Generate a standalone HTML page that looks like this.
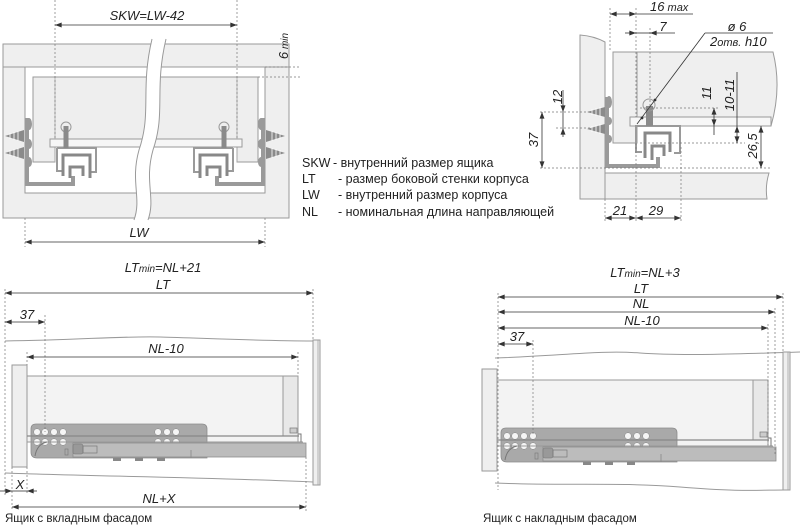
<!DOCTYPE html>
<html><head><meta charset="utf-8">
<style>
html,body{margin:0;padding:0;background:#fff;}
svg{display:block;}
text{font-family:"Liberation Sans",Arial,sans-serif;fill:#222;}
.d{font-style:italic;font-size:13px;}
.l{font-size:12.5px;}
.c{font-size:11.5px;}
.dm{stroke:#333;stroke-width:0.8;fill:none;}
.ds{stroke:#777;stroke-width:0.7;stroke-dasharray:2 2;fill:none;}
.pn{fill:#efefef;stroke:#9a9a9a;stroke-width:1;}
</style></head><body>
<svg width="800" height="528" viewBox="0 0 800 528" xmlns="http://www.w3.org/2000/svg">
<defs>
<marker id="a" viewBox="0 0 8 6" refX="8" refY="3" markerWidth="7" markerHeight="5" orient="auto-start-reverse" markerUnits="userSpaceOnUse"><path d="M0,0L8,3L0,6z" fill="#333"/></marker>
<g id="rl">
<path d="M5,136 L24,130 L24,142Z M5,153 L24,147 L24,159Z" fill="#8a8a8a"/>
<path d="M10,133v6M14,132v8M18,131v10M10,150v6M14,149v8M18,148v10" stroke="#fff" stroke-width="0.8"/>
<rect x="25" y="118" width="4" height="68" fill="#9a9a9a"/>
<ellipse cx="29" cy="124" rx="3" ry="6" fill="#9a9a9a"/>
<ellipse cx="29" cy="144" rx="3" ry="5" fill="#9a9a9a"/>
<ellipse cx="29" cy="162" rx="3" ry="5" fill="#9a9a9a"/>
<path d="M27,184 H73 V176" fill="none" stroke="#9a9a9a" stroke-width="4"/>
<path d="M57,148 V171 H62 M57,148 H96 V172 H91" fill="none" stroke="#9a9a9a" stroke-width="2"/>
<path d="M63,176 V155 H90 V178" fill="none" stroke="#888" stroke-width="3"/>
<path d="M70,178 V167 H83 V176" fill="none" stroke="#888" stroke-width="3"/>
<circle cx="66" cy="127" r="5" fill="none" stroke="#999"/>
<rect x="63.5" y="126" width="5" height="22" fill="#8a8a8a"/>
</g>
<g id="drw">
<rect x="-15" y="-11" width="15" height="102" fill="#efefef" stroke="#9a9a9a"/>
<rect x="0" y="0" width="271" height="66" fill="#f3f3f3" stroke="#999"/>
<rect x="256" y="0" width="15" height="60" fill="#e8e8e8" stroke="#999"/>
<rect x="263" y="52" width="7" height="5" fill="#ccc" stroke="#777" stroke-width="0.7"/>
<path d="M4,53 Q4,48 9,48 H175 Q180,48 180,53 V82 H10 Q4,82 4,76 Z" fill="#a9a9a9" stroke="#8c8c8c" stroke-width="0.8"/>
<g fill="#f5f5f5" stroke="#888" stroke-width="0.5">
<circle cx="10" cy="56" r="3.3"/><circle cx="18" cy="56" r="3.3"/><circle cx="27" cy="56" r="3.3"/><circle cx="36" cy="56" r="3.3"/>
<circle cx="10" cy="66" r="3.3"/><circle cx="18" cy="66" r="3.3"/><circle cx="27" cy="66" r="3.3"/><circle cx="36" cy="66" r="3.3"/>
<circle cx="131" cy="56" r="3.3"/><circle cx="140" cy="56" r="3.3"/><circle cx="149" cy="56" r="3.3"/>
<circle cx="131" cy="66" r="3.3"/><circle cx="140" cy="66" r="3.3"/><circle cx="149" cy="66" r="3.3"/>
</g>
<line x1="0" y1="60" x2="272" y2="60" stroke="#888" stroke-width="1.3"/>
<line x1="0" y1="66" x2="276" y2="66" stroke="#999" stroke-width="1"/>
<path d="M271,58 H274 V66" fill="none" stroke="#777" stroke-width="1"/>
<rect x="46" y="67" width="233" height="14" fill="#bcbcbc" stroke="#8c8c8c" stroke-width="0.8"/>
<line x1="164" y1="74" x2="164" y2="82" stroke="#888" stroke-width="0.8"/>
<rect x="46" y="68" width="10" height="10" rx="2" fill="#999" stroke="#777" stroke-width="0.6"/>
<rect x="56" y="70" width="14" height="7" fill="none" stroke="#777" stroke-width="0.7"/>
<path d="M8,80 Q10,68 20,66" fill="none" stroke="#777" stroke-width="1"/>
<rect x="38" y="73" width="3" height="6" fill="none" stroke="#777" stroke-width="0.6"/>
<g fill="#888"><rect x="86" y="82" width="8" height="3"/><rect x="108" y="82" width="8" height="3"/><rect x="130" y="82" width="8" height="3"/></g>
</g>
</defs>

<!-- ================= TOP LEFT ================= -->
<rect x="3" y="44" width="286" height="174" class="pn"/>
<rect x="25" y="67" width="240" height="126" fill="#fff" stroke="#9a9a9a"/>
<line x1="3" y1="67" x2="25" y2="67" stroke="#9a9a9a"/>
<line x1="265" y1="67" x2="289" y2="67" stroke="#9a9a9a"/>
<path d="M33,77 H258 V162 H237 V147 H55 V162 H33 Z" fill="#eeeeee" stroke="#9a9a9a"/>
<line x1="55" y1="77" x2="55" y2="162" stroke="#aaa" stroke-width="0.8"/>
<line x1="237" y1="77" x2="237" y2="162" stroke="#aaa" stroke-width="0.8"/>
<rect x="50" y="139" width="192" height="8" fill="#f6f6f6" stroke="#9a9a9a"/>
<use href="#rl"/>
<use href="#rl" transform="translate(290,0) scale(-1,1)"/>
<!-- break -->
<path d="M152,39 C140,90 152,112 139,150 C130,182 142,198 134,220 L148,220 C156,198 144,182 153,150 C166,112 154,90 166,39 Z" fill="#fff"/>
<path d="M152,39 C140,90 152,112 139,150 C130,182 142,198 134,220 M166,39 C154,90 166,112 153,150 C144,182 156,198 148,220" fill="none" stroke="#9a9a9a" stroke-width="1"/>
<!-- dims -->
<line x1="55" y1="0" x2="55" y2="140" class="ds"/>
<line x1="237" y1="0" x2="237" y2="140" class="ds"/>
<line x1="55" y1="25" x2="237" y2="25" class="dm" marker-start="url(#a)" marker-end="url(#a)"/>
<text x="147" y="20" class="d" text-anchor="middle">SKW=LW-42</text>
<line x1="25" y1="218" x2="25" y2="247" class="ds"/>
<line x1="265" y1="218" x2="265" y2="247" class="ds"/>
<line x1="25" y1="242" x2="265" y2="242" class="dm" marker-start="url(#a)" marker-end="url(#a)"/>
<text x="139" y="237" class="d" text-anchor="middle">LW</text>
<line x1="265" y1="67" x2="300" y2="67" class="ds"/>
<line x1="258" y1="77" x2="300" y2="77" class="ds"/>
<text transform="translate(288,46) rotate(-90)" class="d" text-anchor="middle" font-size="12">6<tspan font-size="10"> min</tspan></text>

<!-- legend -->
<text x="302" y="167" class="l">SKW</text><text x="333" y="167" class="l">- внутренний размер ящика</text>
<text x="302" y="183" class="l">LT</text><text x="338" y="183" class="l">- размер боковой стенки корпуса</text>
<text x="302" y="199" class="l">LW</text><text x="338" y="199" class="l">- внутренний размер корпуса</text>
<text x="302" y="216" class="l">NL</text><text x="338" y="216" class="l">- номинальная длина направляющей</text>

<!-- ================= TOP RIGHT ================= -->
<path d="M580,35 Q594,36 605,42 V199 H580 Z" class="pn"/>
<path d="M605,173 H769 Q765,186 767,199 H605 Z" class="pn"/>
<path d="M613,52 H773 Q782,88 771,126 H637 V143 H613 Z" class="pn"/>
<line x1="637" y1="52" x2="637" y2="117" stroke="#9a9a9a"/>
<rect x="630" y="117" width="141" height="9" fill="#f7f7f7" stroke="#9a9a9a"/>
<path d="M587,112 L605,107 L605,117Z M587,129 L605,124 L605,134Z" fill="#8a8a8a"/>
<path d="M592,109v6M596,108v8M600,107v10M592,126v6M596,125v8M600,124v10" stroke="#fff" stroke-width="0.8"/>
<rect x="605" y="97" width="4" height="71" fill="#9a9a9a"/>
<ellipse cx="609" cy="102" rx="3" ry="6" fill="#9a9a9a"/>
<ellipse cx="609" cy="121" rx="3" ry="4" fill="#9a9a9a"/>
<ellipse cx="609" cy="139" rx="3" ry="4" fill="#9a9a9a"/>
<path d="M607,166 H658 V157" fill="none" stroke="#9a9a9a" stroke-width="4"/>
<path d="M642,152 H636 V126 H680 V153 H674" fill="none" stroke="#9a9a9a" stroke-width="2"/>
<path d="M645,158 V133 H670 V152" fill="none" stroke="#888" stroke-width="3"/>
<path d="M652,160 V146 H664 V156" fill="none" stroke="#888" stroke-width="3"/>
<rect x="646" y="106" width="7" height="20" fill="#8a8a8a"/>
<circle cx="649" cy="105" r="6" fill="none" stroke="#999"/>
<!-- leader -->
<line x1="705" y1="33" x2="637" y2="124" stroke="#333" stroke-width="0.8"/>
<line x1="705" y1="33" x2="773" y2="33" stroke="#333" stroke-width="0.8"/>
<circle cx="655" cy="100" r="1.4" fill="#333"/>
<circle cx="642" cy="118" r="1.4" fill="#333"/>
<text x="737" y="31" class="d" text-anchor="middle">ø 6</text>
<text x="710" y="46" class="d">2<tspan font-size="11">отв.</tspan> h10</text>
<!-- dims -->
<line x1="610" y1="8" x2="610" y2="52" class="ds"/>
<line x1="636" y1="8" x2="636" y2="117" class="ds"/>
<line x1="650" y1="28" x2="650" y2="108" class="ds"/>
<line x1="610" y1="14" x2="636" y2="14" class="dm" marker-start="url(#a)" marker-end="url(#a)"/>
<line x1="636" y1="14" x2="693" y2="14" class="dm"/>
<text x="650" y="11" class="d">16<tspan font-size="11"> max</tspan></text>
<line x1="625" y1="33" x2="636" y2="33" class="dm" marker-end="url(#a)"/>
<line x1="675" y1="33" x2="650" y2="33" class="dm" marker-end="url(#a)"/>
<line x1="636" y1="33" x2="650" y2="33" class="dm"/>
<text x="663" y="31" class="d" text-anchor="middle">7</text>
<!-- left vertical dims -->
<line x1="540" y1="112" x2="590" y2="112" class="ds"/>
<line x1="556" y1="128" x2="590" y2="128" class="ds"/>
<line x1="540" y1="168" x2="770" y2="168" class="ds"/>
<line x1="563" y1="90" x2="563" y2="112" class="dm" marker-end="url(#a)"/>
<line x1="563" y1="137" x2="563" y2="128" class="dm" marker-end="url(#a)"/>
<line x1="563" y1="112" x2="563" y2="128" class="dm"/>
<text transform="translate(562,97) rotate(-90)" class="d" text-anchor="middle">12</text>
<line x1="542" y1="112" x2="542" y2="168" class="dm" marker-start="url(#a)" marker-end="url(#a)"/>
<text transform="translate(538,140) rotate(-90)" class="d" text-anchor="middle">37</text>
<!-- right vertical dims -->
<line x1="640" y1="108" x2="718" y2="108" class="ds"/>
<line x1="640" y1="143" x2="745" y2="143" class="ds"/>
<line x1="714" y1="108" x2="714" y2="126" class="dm" marker-start="url(#a)" marker-end="url(#a)"/>
<line x1="714" y1="126" x2="714" y2="135" class="dm"/>
<text transform="translate(711,93) rotate(-90)" class="d" text-anchor="middle">11</text>
<line x1="737" y1="72" x2="737" y2="126" class="dm"/>
<line x1="737" y1="126" x2="737" y2="143" class="dm" marker-start="url(#a)" marker-end="url(#a)"/>
<text transform="translate(734,95) rotate(-90)" class="d" text-anchor="middle">10-11</text>
<line x1="761" y1="126" x2="761" y2="168" class="dm" marker-start="url(#a)" marker-end="url(#a)"/>
<text transform="translate(757,146) rotate(-90)" class="d" text-anchor="middle">26,5</text>
<!-- bottom dims -->
<line x1="605" y1="199" x2="605" y2="222" class="ds"/>
<line x1="636" y1="143" x2="636" y2="222" class="ds"/>
<line x1="681" y1="147" x2="681" y2="222" class="ds"/>
<line x1="605" y1="218" x2="636" y2="218" class="dm" marker-start="url(#a)" marker-end="url(#a)"/>
<line x1="636" y1="218" x2="681" y2="218" class="dm" marker-start="url(#a)" marker-end="url(#a)"/>
<text x="620" y="215" class="d" text-anchor="middle">21</text>
<text x="656" y="215" class="d" text-anchor="middle">29</text>

<!-- ================= BOTTOM LEFT ================= -->
<path d="M5,341 C80,340 120,336 160,337 S260,341 313,341" fill="none" stroke="#9a9a9a"/>
<path d="M5,473 C80,476 200,477 313,482" fill="none" stroke="#9a9a9a"/>
<rect x="313" y="340" width="7" height="145" fill="#efefef" stroke="#9a9a9a"/>
<line x1="318" y1="340" x2="318" y2="485" stroke="#9a9a9a" stroke-width="0.7"/>
<use href="#drw" transform="translate(27,376)"/>
<line x1="5" y1="289" x2="5" y2="495" class="ds"/>
<line x1="313" y1="289" x2="313" y2="340" class="ds"/>
<line x1="45" y1="315" x2="45" y2="432" class="ds"/>
<line x1="27" y1="352" x2="27" y2="365" class="ds"/>
<line x1="298" y1="352" x2="298" y2="376" class="ds"/>
<line x1="12" y1="467" x2="12" y2="511" class="ds"/>
<line x1="27" y1="467" x2="27" y2="495" class="ds"/>
<line x1="306" y1="457" x2="306" y2="511" class="ds"/>
<text x="163" y="272" class="d" text-anchor="middle">LT<tspan font-size="10">min</tspan>=NL+21</text>
<text x="163" y="289" class="d" text-anchor="middle">LT</text>
<line x1="5" y1="293" x2="313" y2="293" class="dm" marker-start="url(#a)" marker-end="url(#a)"/>
<text x="27" y="319" class="d" text-anchor="middle">37</text>
<line x1="5" y1="322" x2="45" y2="322" class="dm" marker-start="url(#a)" marker-end="url(#a)"/>
<text x="166" y="353" class="d" text-anchor="middle">NL-10</text>
<line x1="27" y1="357" x2="298" y2="357" class="dm" marker-start="url(#a)" marker-end="url(#a)"/>
<text x="20" y="489" class="d" text-anchor="middle">X</text>
<line x1="0" y1="491" x2="12" y2="491" class="dm" marker-end="url(#a)"/>
<line x1="37" y1="491" x2="27" y2="491" class="dm" marker-end="url(#a)"/>
<line x1="12" y1="491" x2="27" y2="491" class="dm"/>
<text x="159" y="503" class="d" text-anchor="middle">NL+X</text>
<line x1="12" y1="507" x2="306" y2="507" class="dm" marker-start="url(#a)" marker-end="url(#a)"/>
<text x="5" y="522" class="c">Ящик с вкладным фасадом</text>

<!-- ================= BOTTOM RIGHT ================= -->
<path d="M495,358 C560,356 600,350 640,353 S740,354 800,352" fill="none" stroke="#9a9a9a"/>
<path d="M495,483 C560,486 620,482 680,487 S760,490 785,490" fill="none" stroke="#9a9a9a"/>
<rect x="783" y="352" width="7" height="138" fill="#efefef" stroke="#9a9a9a"/>
<line x1="788" y1="352" x2="788" y2="490" stroke="#9a9a9a" stroke-width="0.7"/>
<use href="#drw" transform="translate(497,380)"/>
<line x1="498" y1="293" x2="498" y2="490" class="ds"/>
<line x1="533" y1="340" x2="533" y2="436" class="ds"/>
<line x1="768" y1="324" x2="768" y2="445" class="ds"/>
<line x1="775" y1="308" x2="775" y2="455" class="ds"/>
<line x1="783" y1="293" x2="783" y2="352" class="ds"/>
<text x="645" y="277" class="d" text-anchor="middle">LT<tspan font-size="10">min</tspan>=NL+3</text>
<text x="641" y="293" class="d" text-anchor="middle">LT</text>
<line x1="498" y1="297" x2="783" y2="297" class="dm" marker-start="url(#a)" marker-end="url(#a)"/>
<text x="641" y="308" class="d" text-anchor="middle">NL</text>
<line x1="498" y1="312" x2="775" y2="312" class="dm" marker-start="url(#a)" marker-end="url(#a)"/>
<text x="642" y="325" class="d" text-anchor="middle">NL-10</text>
<line x1="498" y1="328" x2="768" y2="328" class="dm" marker-start="url(#a)" marker-end="url(#a)"/>
<text x="517" y="341" class="d" text-anchor="middle">37</text>
<line x1="498" y1="344" x2="533" y2="344" class="dm" marker-start="url(#a)" marker-end="url(#a)"/>
<text x="483" y="522" class="c">Ящик с накладным фасадом</text>
</svg>
</body></html>
